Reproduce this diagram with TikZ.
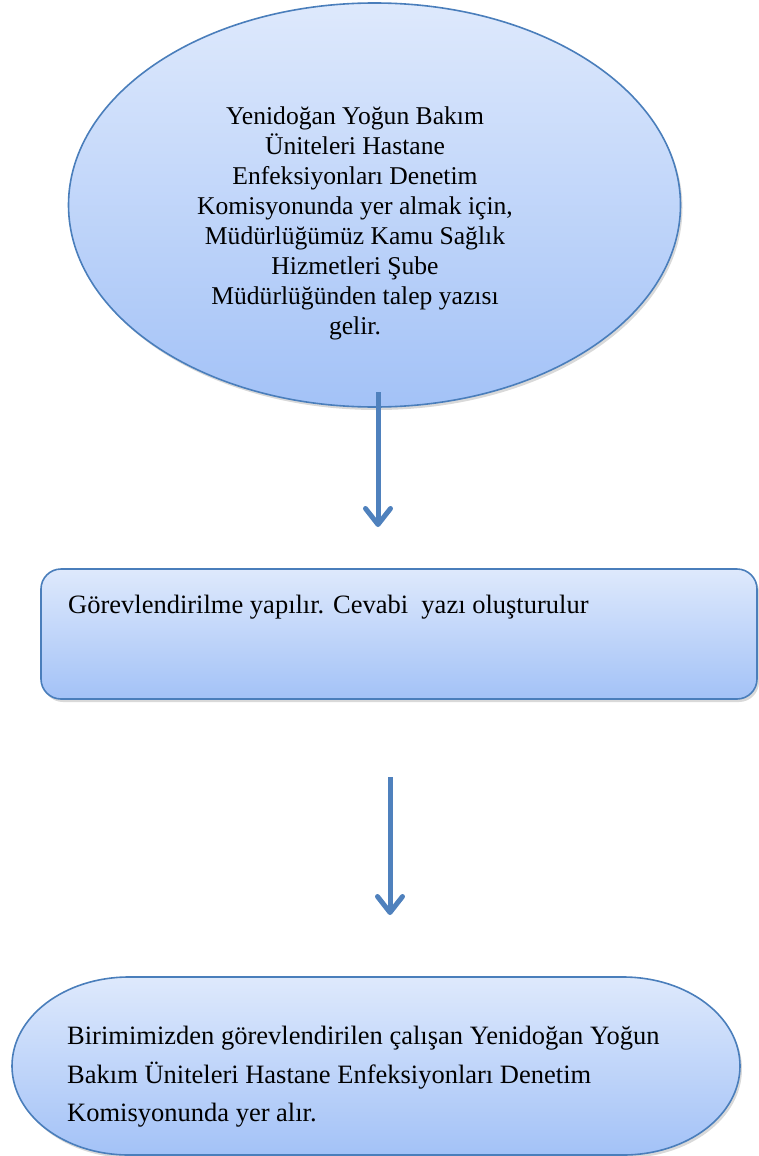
\documentclass[tikz,border=0pt]{standalone}
\usepackage{fontspec}
\setmainfont{Liberation Serif}
\usetikzlibrary{arrows.meta,shadows,shapes.geometric}
\definecolor{edgeblue}{RGB}{74,126,187}
\definecolor{arrowblue}{RGB}{79,129,189}
\definecolor{filltop}{RGB}{222,233,252}
\definecolor{fillbot}{RGB}{163,194,247}
\tikzset{
  shapestyle/.style={draw=edgeblue, line width=1.6pt, top color=filltop, bottom color=fillbot,
    drop shadow={opacity=0.3, shadow xshift=2pt, shadow yshift=-3pt}},
  arr/.style={draw=arrowblue, line width=5pt,
    -{Straight Barb[length=16pt, width=25pt, line cap=round, line join=round]}},
  txt/.style={font=\fontsize{26.5}{30}\selectfont, inner sep=0pt, text=black}
}
\begin{document}
\begin{tikzpicture}[x=1pt,y=1pt]
\useasboundingbox (0,0) rectangle (758,-1156);
% top ellipse
\node[shapestyle, ellipse, minimum width=612pt, minimum height=404pt, inner sep=0pt] (top) at (374.5,-205) {};
\node[txt, font=\fontsize{25.6}{30}\selectfont, align=center] (toptxt) at (355,-223) {Yenidoğan Yoğun Bakım\\Üniteleri Hastane\\Enfeksiyonları Denetim\\Komisyonunda yer almak için,\\ Müdürlüğümüz Kamu Sağlık\\Hizmetleri Şube\\Müdürlüğünden talep yazısı\\gelir.};
% middle box
\node[shapestyle, rectangle, rounded corners=20pt, minimum width=716pt, minimum height=130pt, inner sep=0pt] (mid) at (399,-634) {};
\node[txt, anchor=base west] (midtxt) at (68,-613) {Görevlendirilme yapılır. Cevabi\ \ yazı oluşturulur};
% bottom terminator
\path[shapestyle] (129,-977) -- (623,-977)
  arc[start angle=90, end angle=-90, x radius=117pt, y radius=89pt]
  -- (129,-1155)
  arc[start angle=270, end angle=90, x radius=117pt, y radius=89pt] -- cycle;
\node[inner sep=0pt, minimum width=728pt, minimum height=178pt] (bot) at (376,-1066) {};
\node[txt, font=\fontsize{26.5}{38.5}\selectfont, align=left, anchor=west] (bottxt) at (67,-1077) {Birimimizden görevlendirilen çalışan Yenidoğan Yoğun\\Bakım Üniteleri Hastane Enfeksiyonları Denetim\\Komisyonunda yer alır.};
% arrows
\coordinate (a1s) at (378,-392);
\coordinate (a1e) at (378,-527);
\coordinate (a2s) at (390,-777);
\coordinate (a2e) at (390,-915);
\draw[arr] (a1s) -- (a1e);
\draw[arr] (a2s) -- (a2e);
\end{tikzpicture}
\end{document}
